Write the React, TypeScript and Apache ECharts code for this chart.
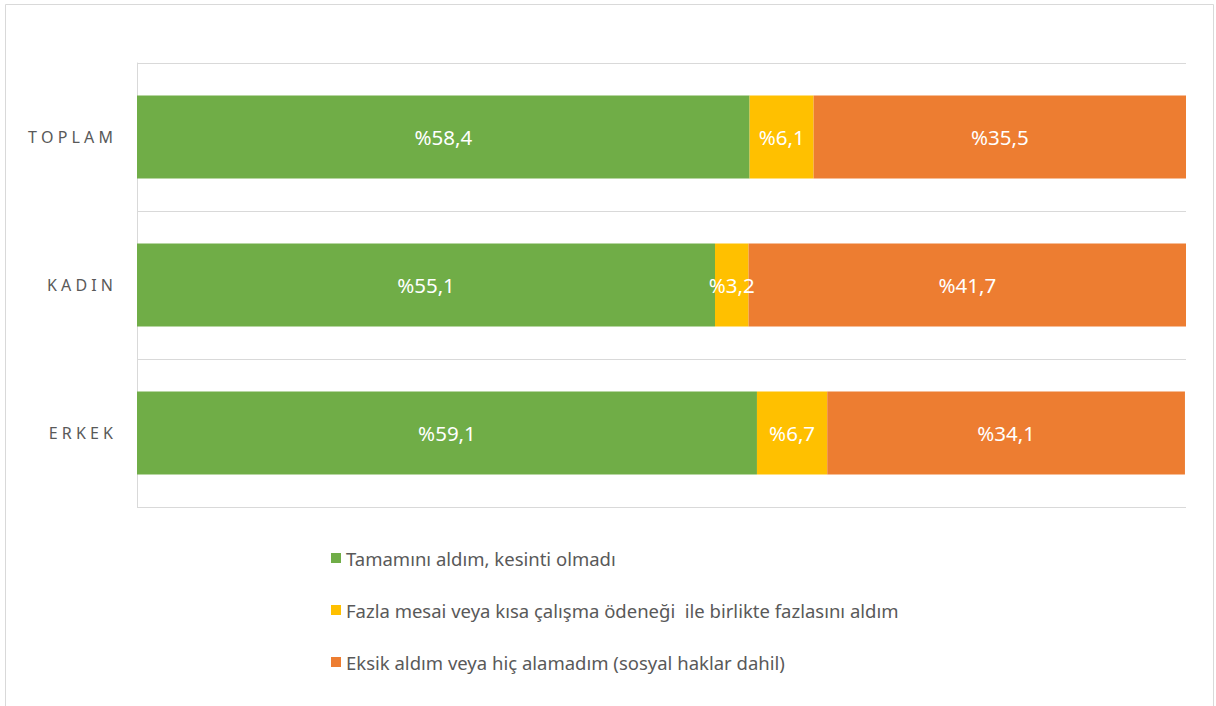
import React, { useEffect, useRef } from "react";
import * as echarts from "echarts";

const categories = ["TOPLAM", "KADIN", "ERKEK"];
const seriesNames = [
  "Tamamını aldım, kesinti olmadı",
  "Fazla mesai veya kısa çalışma ödeneği  ile birlikte fazlasını aldım",
  "Eksik aldım veya hiç alamadım (sosyal haklar dahil)",
];
const fullValues = [58.4, 55.1, 59.1];
const extraValues = [6.1, 3.2, 6.7];
const missingValues = [35.5, 41.7, 34.1];
const colors = ["#70AD47", "#FFC000", "#ED7D31"];

const FONT = "'Noto Sans', 'Open Sans', sans-serif";

export default function App() {
  const ref = useRef<HTMLDivElement>(null);
  useEffect(() => {
    if (!ref.current) return;
    const chart = echarts.init(ref.current, undefined, { renderer: "svg" });
    const mk = (name: string, data: number[], color: string) => ({
      name,
      type: "bar",
      stack: "total",
      data,
      barWidth: 83,
      itemStyle: { color },
      label: {
        show: true,
        position: "inside",
        color: "#ffffff",
        fontSize: 20.5,
        fontFamily: FONT,
        formatter: (p: any) => "%" + String(p.value).replace(".", ","),
      },
    });
    chart.setOption({
      animation: false,
      backgroundColor: "#ffffff",
      textStyle: { fontFamily: FONT },
      graphic: [
        {
          type: "rect",
          shape: { x: 5.5, y: 4.5, width: 1208, height: 730 },
          style: { fill: "none", stroke: "#d9d9d9", lineWidth: 1 },
          silent: true,
        },
      ],
      grid: { left: 137, right: 30, top: 63, height: 444 },
      xAxis: {
        type: "value",
        min: 0,
        max: 100,
        axisLine: { show: false },
        axisTick: { show: false },
        axisLabel: { show: false },
        splitLine: { show: false },
      },
      yAxis: {
        type: "category",
        inverse: true,
        data: categories,
        axisLine: { show: true, lineStyle: { color: "#d9d9d9", width: 1 } },
        axisTick: { show: false },
        splitLine: { show: true, lineStyle: { color: "#d9d9d9", width: 1 } },
        axisLabel: {
          color: "#595959",
          fontSize: 16,
          fontFamily: FONT,
          margin: 24,
          formatter: (v: string) => v.split("").join(" "),
        },
      },
      legend: {
        orient: "vertical",
        left: 326,
        top: 543,
        itemWidth: 10,
        itemHeight: 10,
        itemGap: 32,
        icon: "rect",
        textStyle: {
          color: "#595959",
          fontSize: 18.5,
          lineHeight: 20,
          fontFamily: FONT,
        },
        data: seriesNames,
      },
      series: [
        mk(seriesNames[0], fullValues, colors[0]),
        mk(seriesNames[1], extraValues, colors[1]),
        mk(seriesNames[2], missingValues, colors[2]),
      ],
    });
    return () => chart.dispose();
  }, []);
  return (
    <div
      ref={ref}
      style={{ position: "absolute", left: 0, top: 0, width: 1216, height: 706 }}
    />
  );
}
